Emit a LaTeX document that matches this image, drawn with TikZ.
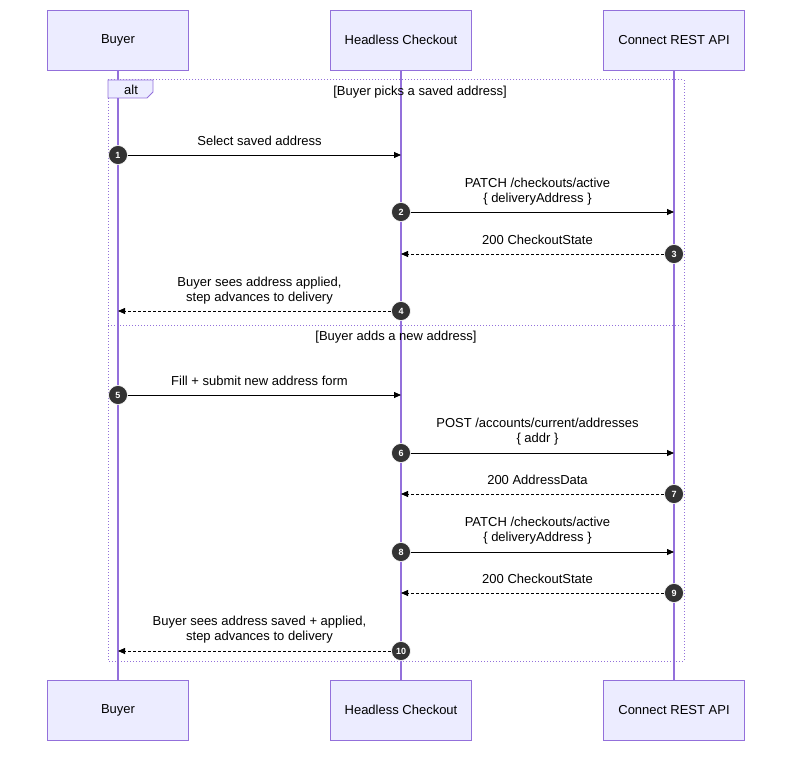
\documentclass[tikz,border=0pt]{standalone}
\usepackage{fontspec}
\setmainfont{Liberation Sans}
\usetikzlibrary{arrows.meta}
\definecolor{boxfill}{HTML}{ECECFF}
\definecolor{boxline}{HTML}{9370DB}
\definecolor{badge}{HTML}{333333}
\tikzset{
 actor/.style={draw=boxline,fill=boxfill,minimum width=141pt,minimum height=60pt,inner sep=0pt,font=\fontsize{13}{15}\selectfont},
 life/.style={draw=boxline,line width=1.2pt},
 msg/.style={draw=black,line width=0.8pt,-{Triangle[length=7pt,width=6pt]}},
 rep/.style={msg,dash pattern=on 3pt off 2pt},
 lbl/.style={font=\fontsize{13}{15}\selectfont,align=center,inner sep=0pt},
 num/.style={circle,fill=badge,draw=white,line width=0.6pt,minimum size=19pt,inner sep=0pt,text=white,font=\bfseries\fontsize{9}{10}\selectfont},
 frame/.style={draw=boxline,line width=1pt,dotted},
}
\begin{document}
\begin{tikzpicture}[x=1pt,y=-1pt]
\useasboundingbox (0,0) rectangle (800,759);
% lifelines
\coordinate (bt) at (118,70); \coordinate (bb) at (118,680);
\coordinate (ht) at (401,70); \coordinate (hb) at (401,680);
\coordinate (ct) at (674,70); \coordinate (cb) at (674,680);
\draw[life] (bt) -- (bb); \draw[life] (ht) -- (hb); \draw[life] (ct) -- (cb);
% actors
\node[actor] (b1) at (118,40) {Buyer};
\node[actor] (h1) at (401,40) {Headless Checkout};
\node[actor] (c1) at (674,40) {Connect REST API};
\node[actor] (b2) at (118,710) {Buyer};
\node[actor] (h2) at (401,710) {Headless Checkout};
\node[actor] (c2) at (674,710) {Connect REST API};
% frame
\draw[frame] (108,80) rectangle (684,661);
\draw[frame] (108,325) -- (684,325);
\draw[draw=boxline,fill=boxfill,line width=0.8pt] (108,80) -- (153,80) -- (153,92) -- (147,98) -- (108,98) -- cycle;
\node[lbl] (altl) at (131,90) {alt};
\node[lbl] (g1) at (420,92) {[Buyer picks a saved address]};
\node[lbl] (g2) at (396,337) {[Buyer adds a new address]};
% messages
\newcommand{\mymsg}[7]{%
 \coordinate (s#1) at (#2,#4); \coordinate (e#1) at (#3,#4);
 \draw[#5] (s#1) -- (e#1);
 \node[lbl] (l#1) at ({(#2+#3)/2},#6) {#7};
 \node[num] (n#1) at (s#1) {#1};}
\mymsg{1}{118}{401}{155}{msg}{141}{Select saved address}
\mymsg{2}{401}{674}{212}{msg}{191.5}{PATCH /checkouts/active\\{\{} deliveryAddress {\}}}
\mymsg{3}{674}{401}{254}{rep}{240}{200 CheckoutState}
\mymsg{4}{401}{118}{311}{rep}{290.5}{Buyer sees address applied,\\step advances to delivery}
\mymsg{5}{118}{401}{395}{msg}{381}{Fill + submit new address form}
\mymsg{6}{401}{674}{453}{msg}{431.5}{POST /accounts/current/addresses\\{\{} addr {\}}}
\mymsg{7}{674}{401}{494}{rep}{480}{200 AddressData}
\mymsg{8}{401}{674}{552}{msg}{531}{PATCH /checkouts/active\\{\{} deliveryAddress {\}}}
\mymsg{9}{674}{401}{593}{rep}{579}{200 CheckoutState}
\mymsg{10}{401}{118}{651}{rep}{630}{Buyer sees address saved + applied,\\step advances to delivery}
\end{tikzpicture}
\end{document}
